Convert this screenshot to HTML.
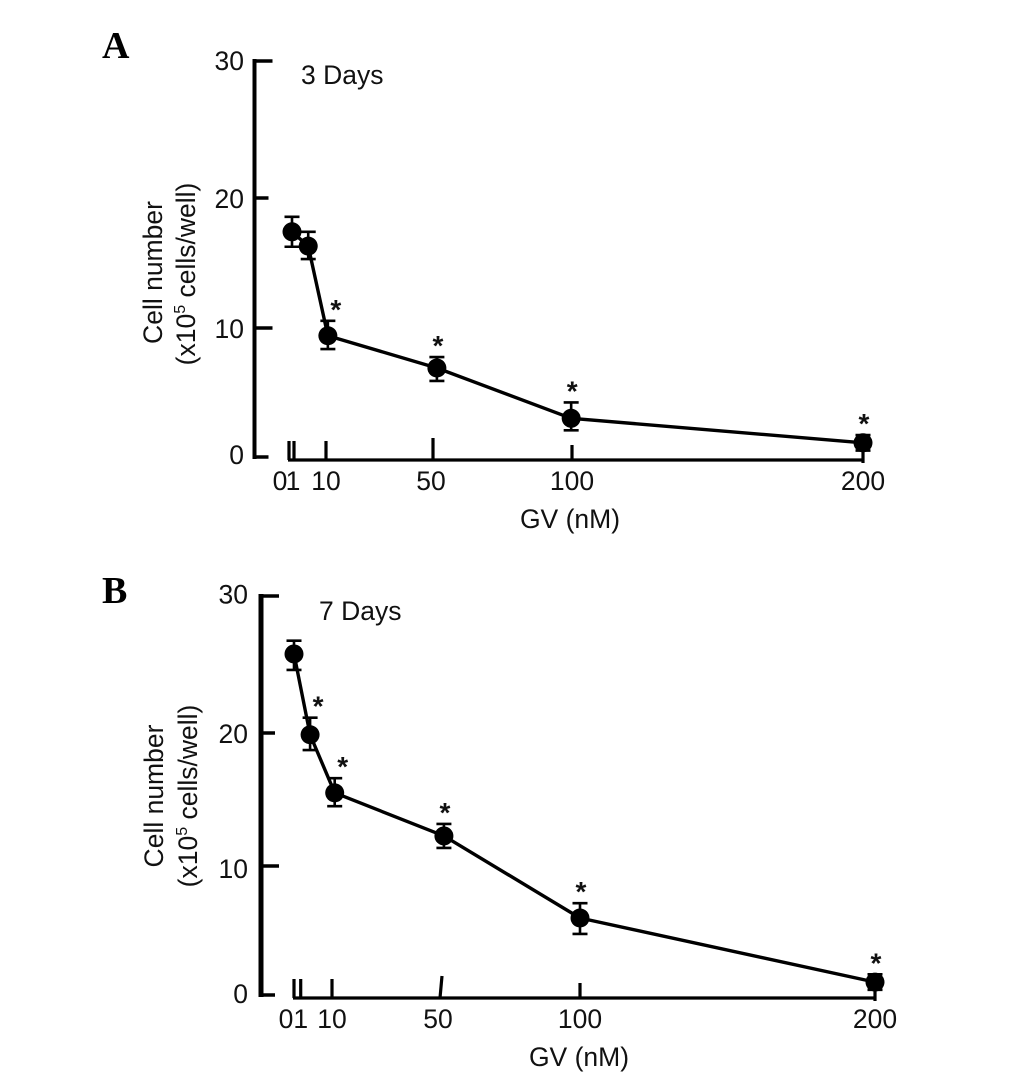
<!DOCTYPE html>
<html lang="en">
<head>
<meta charset="utf-8">
<title>Cell number vs GV dose</title>
<style>
html,body{margin:0;padding:0;background:#fff;}
svg{display:block;font-family:"Liberation Sans",sans-serif;fill:#111;filter:blur(0.35px);}
.letter{font-family:"Liberation Serif",serif;font-weight:bold;font-size:38px;fill:#000;}
.t{font-size:26.5px;}
</style>
</head>
<body>
<svg id="figure" width="1033" height="1080" viewBox="0 0 1033 1080" xmlns="http://www.w3.org/2000/svg">
  <text class="letter" x="102" y="58">A</text>
  <text class="letter" x="102" y="603">B</text>

  <text class="t" x="301" y="84">3 Days</text>
  <text class="t" x="319" y="620">7 Days</text>

  <text class="t" text-anchor="middle" transform="translate(162,272.5) rotate(-90)">Cell number</text>
  <text class="t" text-anchor="middle" transform="translate(195,274) rotate(-90)">(x10<tspan font-size="16" dy="-10">5</tspan><tspan dy="10"> cells/well)</tspan></text>
  <text class="t" text-anchor="middle" transform="translate(163,796) rotate(-90)">Cell number</text>
  <text class="t" text-anchor="middle" transform="translate(197,796) rotate(-90)">(x10<tspan font-size="16" dy="-10">5</tspan><tspan dy="10"> cells/well)</tspan></text>

  <text class="t" text-anchor="middle" x="570" y="528">GV (nM)</text>
  <text class="t" text-anchor="middle" x="579" y="1066">GV (nM)</text>
</svg>

<script>
// Shared axis data
const xTickDoses = [0, 1, 10, 50, 100, 200];
const xTickLabels = ["0", "1", "10", "50", "100", "200"];
const yTickValues = [0, 10, 20, 30];
const yTickLabels = ["0", "10", "20", "30"];

// Panel A: 3 days
const dosesA = [0.6, 5, 10.7, 51.4, 99.7, 200];
const meansA = [17.4, 16.3, 9.4, 6.9, 3.0, 1.1];
const errUpperA = [1.15, 1.1, 1.15, 0.85, 1.23, 0.6];
const errLowerA = [1.15, 1.0, 1.03, 1.0, 0.93, 0.6];
const significantA = [false, false, true, true, true, true];

// Panel B: 7 days
const dosesB = [0, 3.7, 11, 51.4, 100, 200];
const meansB = [25.77, 19.87, 15.5, 12.26, 5.97, 1.0];
const errUpperB = [0.97, 1.25, 1.1, 0.9, 1.15, 0.6];
const errLowerB = [1.17, 1.15, 1.0, 0.9, 1.24, 0.6];
const significantB = [false, true, true, true, true, true];

const SVG_NS = "http://www.w3.org/2000/svg";
const figure = document.getElementById("figure");

function make(parent, tag, attrs) {
  const el = document.createElementNS(SVG_NS, tag);
  for (const key in attrs) el.setAttribute(key, attrs[key]);
  parent.appendChild(el);
  return el;
}

// The printed axes are hand-spaced, so both scales are piecewise linear between ticks.
function piecewise(domain, range) {
  return v => {
    let i = 0;
    while (i < domain.length - 2 && v > domain[i + 1]) i++;
    const t = (v - domain[i]) / (domain[i + 1] - domain[i]);
    return range[i] + t * (range[i + 1] - range[i]);
  };
}

function drawPanel(cfg, doses, means, errUpper, errLower, significant) {
  const p = cfg.prefix;
  const yScale = piecewise(yTickValues, cfg.yStops);
  const xScale = piecewise(xTickDoses, cfg.xStops);

  const group = make(figure, "g", {});
  
  

  // Y axis
  const yAxis = make(group, "line", {
    x1: cfg.yAxisX, x2: cfg.yAxisX,
    y1: yScale(30) - 2, y2: yScale(0) + 2,
    stroke: "#000", "stroke-width": cfg.yAxisWidth
  });
  
  

  yTickValues.forEach((v, i) => {
    const y = yScale(v);
    const tick = make(group, "line", {
      x1: cfg.yAxisX, x2: cfg.yAxisX + (i % 2 ? 18 : 14),
      y1: y, y2: y, stroke: "#000", "stroke-width": 3.5
    });
    
    

    const label = make(group, "text", {
      x: cfg.yLabelRight,
      y: y + (v === 0 ? cfg.yLabelNudgeZero : v === 10 ? cfg.yLabelNudgeTen : v === 30 ? cfg.yLabelNudgeThirty : cfg.yLabelNudge),
      "text-anchor": "end", "font-size": 26.5
    });
    label.textContent = yTickLabels[i];
    
    
  });

  // X axis
  const xAxis = make(group, "line", {
    x1: xScale(0) - 1, x2: xScale(200) + 1,
    y1: cfg.xAxisY, y2: cfg.xAxisY,
    stroke: "#000", "stroke-width": 3.2
  });
  
  

  xTickDoses.forEach((d, i) => {
    const x = xScale(d);
    const rise = d === 50 ? 22 : d === 100 ? 15 : 19;
    const tick = make(group, "line", {
      x1: x, x2: x + (d === 50 ? cfg.fiftyLean : 0),
      y1: cfg.xAxisY + (d === 200 ? 3 : 0), y2: cfg.xAxisY - rise,
      stroke: "#000", "stroke-width": 3.2
    });
    
    

    const shift = d === 0 ? -9 + cfg.zeroOneShift : d === 1 ? -1 + cfg.zeroOneShift : d === 50 ? -2 : 0;
    const label = make(group, "text", {
      x: x + shift, y: cfg.xLabelY,
      "text-anchor": "middle", "font-size": 26.5
    });
    label.textContent = xTickLabels[i];
    
    
  });

  // Series line
  const pointsAttr = doses.map((d, i) => xScale(d) + "," + yScale(means[i])).join(" ");
  const series = make(group, "polyline", {
    points: pointsAttr, fill: "none", stroke: "#000",
    "stroke-width": 3.4, "stroke-linejoin": "round"
  });
  
  

  // Error bars, markers, significance stars
  doses.forEach((d, i) => {
    const x = xScale(d);
    const y = yScale(means[i]);
    const top = yScale(means[i] + errUpper[i]);
    const bottom = yScale(means[i] - errLower[i]);

    const err = make(group, "path", {
      d: "M" + (x - 7.5) + " " + top + "H" + (x + 7.5) +
         "M" + x + " " + top + "V" + bottom +
         "M" + (x - 7.5) + " " + bottom + "H" + (x + 7.5),
      fill: "none", stroke: "#000", "stroke-width": 2.6
    });
    
    

    const dot = make(group, "circle", { cx: x, cy: y, r: 9.5, fill: "#000" });
    
    

    if (significant[i]) {
      const star = make(group, "text", {
        x: x + (d <= 15 ? 8 : 1),
        y: top - 2,
        "text-anchor": "middle", "font-size": 28, "font-weight": "bold"
      });
      star.textContent = "*";
      
      
    }
  });
}

drawPanel({
  prefix: "panel-a",
  yStops: [457, 328, 198, 61],
  yAxisX: 254.5, yAxisWidth: 4,
  yLabelRight: 244, yLabelNudge: 10, yLabelNudgeZero: 7, yLabelNudgeTen: 10, yLabelNudgeThirty: 9,
  xAxisY: 460, xLabelY: 490, fiftyLean: 0, zeroOneShift: 0,
  xStops: [289, 294, 326, 433, 572, 863]
}, dosesA, meansA, errUpperA, errLowerA, significantA);

drawPanel({
  prefix: "panel-b",
  yStops: [995, 866, 733, 596],
  yAxisX: 261, yAxisWidth: 5,
  yLabelRight: 248, yLabelNudge: 10, yLabelNudgeZero: 8, yLabelNudgeTen: 12, yLabelNudgeThirty: 7.5,
  xAxisY: 998, xLabelY: 1028, fiftyLean: 2, zeroOneShift: 1,
  xStops: [294, 300.7, 332, 440, 580, 875]
}, dosesB, meansB, errUpperB, errLowerB, significantB);
</script>
</body>
</html>
